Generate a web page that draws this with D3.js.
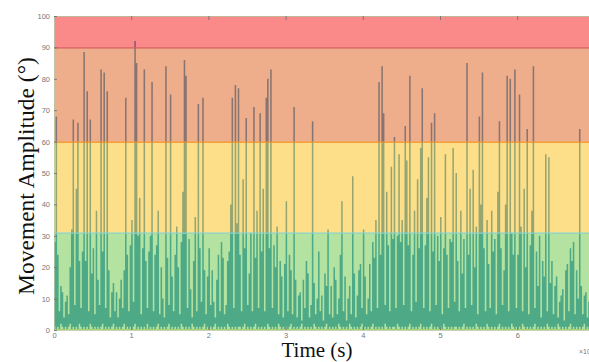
<!DOCTYPE html>
<html>
<head>
<meta charset="utf-8">
<script src="https://cdn.jsdelivr.net/npm/d3@7"></script>
<style>
  body { margin: 0; background: #fff; }
</style>
</head>
<body>
<div id="chart"></div>
<script>
// the recording is very dense, so it is kept as min / max per time bin
// (bin width 0.02 x 1e4 s), the way a plotted line looks at this size
const binWidth = 0.02;

// highest amplitude in each bin (deg)
const ampMax = [
  28, 68, 24, 6, 14, 12, 4, 9, 11, 5, 20, 32, 67, 8, 45, 66, 22, 7, 25, 88.5,
  22, 76, 6, 67, 18, 26, 5, 38, 16, 8, 83, 25, 82, 7, 76, 19, 4, 12, 15, 6,
  12, 4, 10, 16, 7, 19, 74, 24, 6, 27, 35, 9, 92, 85, 30, 42, 5, 26, 83, 22,
  7, 25, 30, 79, 6, 24, 27, 38, 5, 20, 10, 4, 84, 23, 8, 75, 17, 6, 24, 33,
  20, 5, 28, 44, 86, 81, 7, 29, 13, 4, 22, 36, 6, 72, 26, 9, 74, 19, 5, 17,
  26, 8, 19, 9, 4, 16, 24, 6, 28, 23, 5, 8, 22, 25, 40, 74, 7, 78, 34, 77,
  24, 6, 48, 26, 67.5, 8, 18, 31, 6, 71, 23, 38, 7, 69, 25, 45, 6, 74, 80, 26,
  83, 7, 27, 20, 33, 5, 22, 17, 4, 21, 41, 6, 24, 19, 5, 71, 16, 4, 11, 12,
  3, 16, 7, 22, 18, 4, 8, 66.5, 15, 5, 10, 25, 6, 11, 3, 18, 14, 32, 5, 14,
  4, 20, 16, 5, 10, 24, 41, 6, 17, 3, 10, 14, 5, 49, 18, 4, 11, 19, 21, 7,
  32, 17, 5, 10, 21, 6, 28, 23, 35, 7, 79, 24, 84, 69, 8, 44, 27, 6, 52, 29,
  61.5, 7, 30, 56, 28, 35, 8, 65, 54, 27, 81, 6, 24, 38, 9, 48, 26, 58, 77, 7,
  27, 42, 55, 6, 66, 25, 69, 8, 30, 22, 36, 5, 26, 56, 24, 7, 29, 28, 58, 9,
  50, 22, 6, 38, 18, 29, 7, 85, 24, 45, 8, 51, 20, 33, 5, 68, 40, 82, 26, 6,
  35, 21, 7, 38, 25, 29, 5, 44, 66.5, 26, 8, 19, 40, 81, 6, 80, 31, 24, 83, 7,
  24, 75, 33, 6, 45, 20, 64, 5, 27, 38, 84, 7, 25, 14, 30, 4, 22, 17, 56, 6,
  55, 15, 22, 5, 14, 17, 4, 9, 11, 13, 3, 19, 21, 6, 26, 22, 28, 5, 19, 10,
  64, 14, 5, 11, 12, 4, 9
];

// lowest amplitude in each bin (deg)
const ampMin = [
  1, 0, 1, 0, 2, 1, 0, 1, 0, 1, 2, 0, 1, 0, 1, 0, 2, 1, 0, 1,
  0, 1, 0, 2, 1, 0, 1, 0, 1, 0, 1, 2, 0, 1, 0, 1, 0, 1, 2, 0,
  1, 0, 1, 0, 1, 2, 0, 1, 0, 1, 0, 1, 2, 0, 1, 0, 1, 0, 1, 0,
  2, 0, 1, 0, 1, 0, 1, 2, 0, 1, 0, 1, 0, 1, 2, 0, 1, 0, 1, 0,
  1, 0, 2, 1, 0, 1, 0, 1, 0, 2, 1, 0, 1, 0, 1, 0, 1, 2, 0, 1,
  0, 1, 0, 1, 2, 0, 1, 0, 1, 0, 1, 0, 2, 1, 0, 1, 0, 1, 0, 1,
  1, 0, 1, 2, 0, 1, 0, 1, 0, 1, 2, 0, 1, 0, 1, 0, 1, 0, 2, 1,
  0, 1, 0, 1, 0, 2, 1, 0, 1, 0, 1, 0, 1, 2, 0, 1, 0, 1, 0, 1,
  2, 0, 1, 0, 1, 0, 1, 0, 2, 1, 0, 1, 0, 1, 0, 1, 2, 0, 1, 0,
  1, 0, 1, 0, 2, 1, 0, 1, 0, 1, 0, 2, 1, 0, 1, 0, 1, 0, 1, 2,
  0, 1, 0, 1, 0, 1, 2, 0, 1, 0, 1, 0, 1, 0, 2, 1, 0, 1, 0, 1,
  1, 0, 2, 1, 0, 1, 0, 1, 0, 1, 2, 0, 1, 0, 1, 0, 1, 2, 0, 1,
  0, 1, 0, 1, 2, 0, 1, 0, 1, 0, 1, 0, 2, 1, 0, 1, 0, 1, 0, 1,
  1, 0, 1, 0, 1, 2, 0, 1, 0, 1, 0, 1, 0, 2, 1, 0, 1, 0, 1, 0,
  2, 1, 0, 1, 0, 1, 0, 1, 2, 0, 1, 0, 1, 0, 1, 0, 2, 1, 0, 1,
  0, 1, 0, 2, 1, 0, 1, 0, 1, 0, 1, 2, 0, 1, 0, 1, 0, 1, 0, 2,
  1, 0, 1, 0, 1, 0, 2, 1, 0, 1, 0, 1, 0, 1, 2, 0, 1, 0, 1, 0,
  1, 0, 1, 2, 0, 1, 0
];

// risk zones (deg)
const zoneNames = ["low", "moderate", "high", "very high"];
const zoneLower = [0, 31, 60, 90];
const zoneUpper = [31, 60, 90, 100];

const xTicks = [0, 1, 2, 3, 4, 5, 6];
const yTicks = [0, 10, 20, 30, 40, 50, 60, 70, 80, 90, 100];

const width = 589;
const height = 362;
const margin = { top: 16, right: 0, bottom: 32, left: 54 };

const zoneFill = ["#82cf61", "#fcca3c", "#e3763e", "#f73c3c"];
const zoneEdge = ["#8fd3c5", "#f08a24", "#d45a5a", "#e07070"];

const svg = d3.select("#chart")
  .append("svg")
  .attr("width", width)
  .attr("height", height)
  .style("display", "block");

const x = d3.scaleLinear()
  .domain([0, 6.93])
  .range([margin.left, width - margin.right]);

const y = d3.scaleLinear()
  .domain([0, 100])
  .range([height - margin.bottom, margin.top]);

svg.append("defs").append("clipPath")
  .attr("id", "plot-clip")
  .append("rect")
  .attr("x", margin.left)
  .attr("y", margin.top)
  .attr("width", width - margin.left - margin.right)
  .attr("height", y(0) - y(100));

const plot = svg.append("g").attr("clip-path", "url(#plot-clip)");

// one record per bin, plus a closing point so the last bin gets its width
let bins = ampMax.map((v, i) => ({ t: i * binWidth, hi: v, lo: ampMin[i] }));
const last = bins[bins.length - 1];
bins.push({ t: last.t + binWidth, hi: last.hi, lo: last.lo });

// signal first, the zones are see-through patches laid over it
const signal = d3.area()
  .curve(d3.curveStepAfter)
  .x(d => x(d.t))
  .y0(d => y(d.lo))
  .y1(d => y(d.hi));

plot.append("path")
  .datum(bins)
  .attr("fill", "#0072bd")
  .attr("d", signal);

plot.selectAll("rect.zone")
  .data(zoneNames)
  .enter()
  .append("rect")
  .attr("class", "zone")
  .attr("x", x(0))
  .attr("width", x(6.93) - x(0))
  .attr("y", (d, i) => y(zoneUpper[i]))
  .attr("height", (d, i) => y(zoneLower[i]) - y(zoneUpper[i]))
  .attr("fill", (d, i) => zoneFill[i])
  .attr("fill-opacity", 0.6);

plot.selectAll("line.edge")
  .data(zoneNames)
  .enter()
  .append("line")
  .attr("class", "edge")
  .attr("x1", x(0))
  .attr("x2", x(6.93))
  .attr("y1", (d, i) => y(zoneUpper[i]) + 0.5)
  .attr("y2", (d, i) => y(zoneUpper[i]) + 0.5)
  .attr("stroke", (d, i) => zoneEdge[i])
  .attr("stroke-width", 1.2);

plot.append("line")
  .attr("x1", x(0))
  .attr("x2", x(6.93))
  .attr("y1", y(0) - 0.5)
  .attr("y2", y(0) - 0.5)
  .attr("stroke", "#a9cf6a")
  .attr("stroke-width", 1.2);

// axes, ticks pointing inwards
const tickColor = "#6b6b6b";

const xAxis = svg.append("g")
  .attr("transform", `translate(0,${y(0)})`)
  .call(d3.axisBottom(x).tickValues(xTicks).tickFormat(d3.format("d"))
    .tickSizeInner(-3).tickSizeOuter(0).tickPadding(3));

const xTop = svg.append("g")
  .attr("transform", `translate(0,${y(100)})`)
  .call(d3.axisTop(x).tickValues(xTicks).tickSizeInner(-4).tickSizeOuter(0).tickFormat(""));

const yAxis = svg.append("g")
  .attr("transform", `translate(${x(0)},0)`)
  .call(d3.axisLeft(y).tickValues(yTicks).tickFormat(d3.format("d"))
    .tickSizeInner(-3).tickSizeOuter(0).tickPadding(4));

[xAxis, xTop, yAxis].forEach(g => {
  g.select(".domain").attr("stroke", "#b9c9a8").attr("stroke-width", 0.8);
  g.selectAll(".tick line").attr("stroke", tickColor).attr("stroke-width", 0.8);
  g.selectAll(".tick text")
    .attr("fill", "#777")
    .style("font-family", "'Liberation Sans', Arial, sans-serif")
    .style("font-size", "7.5px");
});

// exponent of the time axis, cut by the page edge
svg.append("text")
  .attr("x", 579)
  .attr("y", 354)
  .attr("fill", "#777")
  .style("font-family", "'Liberation Sans', Arial, sans-serif")
  .style("font-size", "7px")
  .text("×10")
  .append("tspan")
  .attr("dy", -3)
  .style("font-size", "5px")
  .text("4");

// axis titles
svg.append("text")
  .attr("x", 317)
  .attr("y", 357)
  .attr("text-anchor", "middle")
  .style("font-family", "'Liberation Serif', 'Times New Roman', serif")
  .style("font-size", "21px")
  .attr("fill", "#111")
  .text("Time (s)");

svg.append("text")
  .attr("transform", "translate(34,176) rotate(-90)")
  .attr("text-anchor", "middle")
  .style("font-family", "'Liberation Serif', 'Times New Roman', serif")
  .style("font-size", "23.5px")
  .attr("fill", "#111")
  .text("Movement Amplitude (°)");
</script>
</body>
</html>
